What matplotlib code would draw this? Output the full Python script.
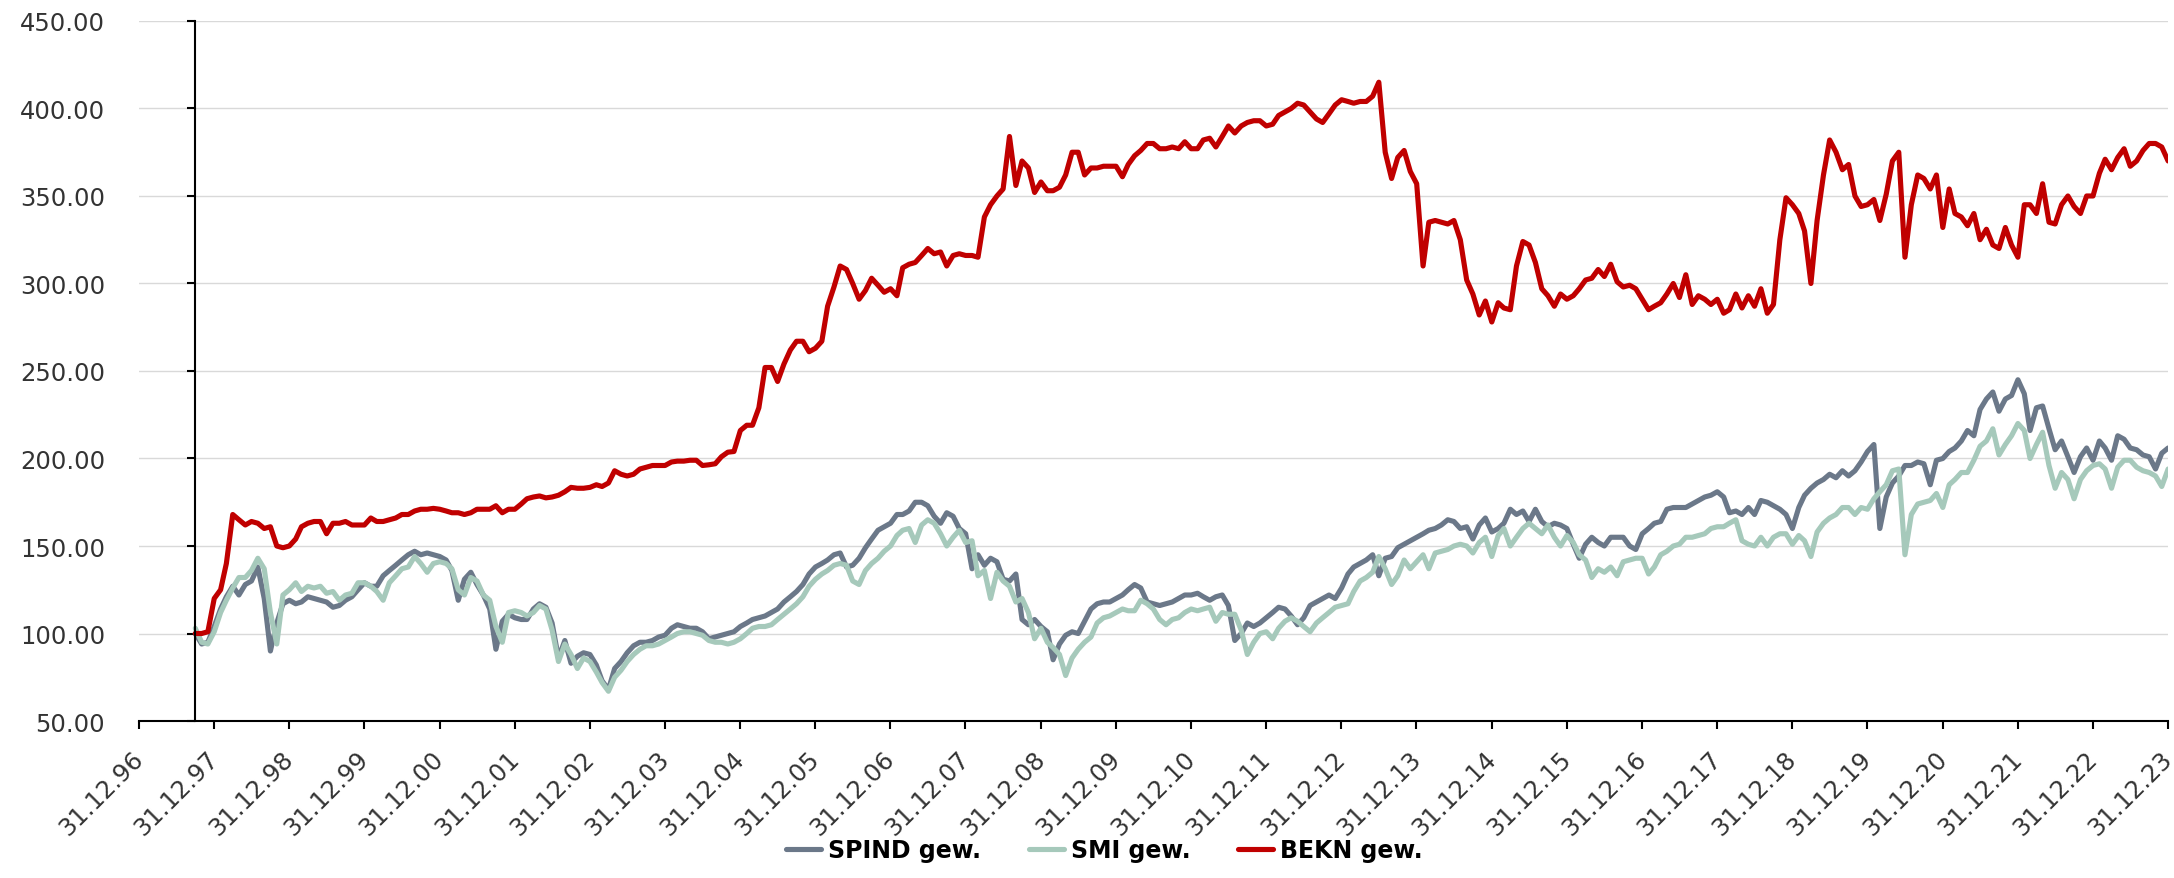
import pandas as pd
import matplotlib
matplotlib.use('Agg')
import matplotlib.pyplot as plt
import matplotlib.dates as mdates
import matplotlib.transforms as mtransforms
from matplotlib.ticker import FormatStrFormatter

# monthly index values, starting Oct 1997 = 100
spind = [
    100, 94, 95, 104, 114, 121, 127, 122, 128, 130, 138, 120, 90, 106, 117, 119, 117, 118, 121, 120,
    119, 118, 115, 116, 119, 121, 125, 129, 127, 127, 133, 136, 139, 142, 145, 147, 145, 146, 145, 144,
    142, 136, 119, 131, 135, 128, 122, 114, 91, 107, 111, 109, 108,
    108, 114, 117, 115, 106, 86, 96, 83, 87, 89, 88, 82, 73, 68, 80, 84, 89, 93, 95, 95,
    96, 98, 99, 103, 105, 104, 103, 103, 101, 97, 98, 99, 100, 101, 104, 106, 108, 109, 110, 112,
    114, 118, 121, 124, 128, 134, 138, 140, 142, 145, 146, 138, 139,
    143, 149, 154, 159, 161, 163, 168, 168, 170, 175, 175, 173, 167, 163, 169, 167, 160, 157, 137, 145,
    139, 143, 141, 131, 130, 134, 108, 105, 108, 104, 101, 85, 94, 99, 101, 100, 107, 114, 117, 118,
    118, 120, 122, 125, 128, 126, 118, 117, 116, 117, 118, 120, 122,
    122, 123, 121, 119, 121, 122, 116, 96, 100, 106, 104, 106, 109, 112, 115, 114, 110, 105, 109, 116,
    118, 120, 122, 120, 126, 134, 138, 140, 142, 145, 133, 143, 144, 149, 151, 153, 155, 157, 159, 160,
    162, 165, 164, 160, 161, 154, 162, 166, 158, 160, 163, 171,
    168, 170, 164, 171, 164, 161, 163, 162, 160, 151, 143, 151, 155, 152, 150, 155, 155, 155, 150, 148,
    157, 160, 163, 164, 171, 172, 172, 172, 174, 176, 178, 179, 181, 178, 169, 170, 168, 172, 168, 176,
    175, 173, 171, 168, 160, 172, 179, 183, 186, 188, 191, 189, 193,
    190, 193, 198, 204, 208, 160, 178, 186, 190, 196, 196, 198, 197, 185, 199, 200, 204, 206, 210, 216,
    213, 228, 234, 238, 227, 234, 236, 245, 237, 216, 229, 230, 217, 205, 210, 201, 192, 201, 206, 199,
    210, 206, 199, 213, 211, 206, 205, 202, 201, 194, 203, 206,
]

smi = [
    103, 95, 94, 101, 112, 119, 126, 132, 132, 136, 143, 137, 112, 94, 122, 125, 129, 124, 127, 126,
    127, 123, 124, 119, 122, 123, 129, 129, 127, 124, 119, 129, 133, 137, 138, 144, 140, 135, 140, 141,
    140, 137, 125, 122, 132, 130, 122, 119, 104, 95, 112, 113, 112,
    110, 112, 116, 114, 102, 84, 94, 88, 80, 86, 84, 78, 72, 67, 75, 79, 84, 88, 91, 93,
    93, 94, 96, 98, 100, 101, 101, 100, 99, 96, 95, 95, 94, 95, 97, 100, 103, 104, 104, 105,
    108, 111, 114, 117, 121, 127, 131, 134, 136, 139, 140, 139, 130,
    128, 136, 140, 143, 147, 150, 156, 159, 160, 152, 162, 165, 163, 157, 150, 155, 159, 152, 153, 133,
    136, 120, 135, 130, 127, 118, 120, 112, 97, 103, 95, 92, 88, 76, 86, 91, 95, 98, 106, 109,
    110, 112, 114, 113, 113, 119, 117, 114, 108, 105, 108, 109, 112,
    114, 113, 114, 115, 107, 112, 111, 111, 102, 88, 95, 100, 101, 97, 103, 107, 109, 107, 104, 101,
    106, 109, 112, 115, 116, 117, 124, 130, 132, 135, 144, 137, 128, 133, 142, 137, 141, 145, 137, 146,
    147, 148, 150, 151, 150, 146, 152, 155, 144, 156, 160, 150,
    155, 160, 163, 160, 157, 162, 155, 150, 156, 152, 145, 142, 132, 137, 135, 138, 133, 141, 142, 143,
    143, 134, 138, 145, 147, 150, 151, 155, 155, 156, 157, 160, 161, 161, 163, 165, 153, 151, 150, 155,
    150, 155, 157, 157, 151, 156, 153, 144, 158, 163, 166, 168, 172,
    172, 168, 172, 171, 177, 181, 185, 193, 194, 145, 168, 174, 175, 176, 180, 172, 185, 188, 192, 192,
    199, 207, 210, 217, 202, 208, 213, 220, 216, 200, 208, 215, 196, 183, 192, 188, 177, 188, 193, 196,
    197, 194, 183, 195, 199, 199, 195, 193, 192, 190, 184, 194,
]

bekn = [
    100, 100, 101, 120, 125, 140, 168, 165, 162, 164, 163, 160, 161, 150, 149, 150, 154, 161, 163, 164,
    164, 157, 163, 163, 164, 162, 162, 162, 166, 164, 164, 165, 166, 168, 168, 170, 171, 171, 171.5, 171,
    170, 169, 169, 168, 169, 171, 171, 171, 173, 169, 171, 171, 174,
    177, 178, 178.6, 177.5, 178, 179, 181, 183.5, 183, 183, 183.5, 185, 184, 186, 193, 191, 190, 191, 194, 195,
    196, 196, 196, 198, 198.5, 198.5, 199, 199, 196, 196.4, 197, 201, 203.6, 204, 216, 219, 219, 229, 252, 252,
    244, 254, 262, 267, 267, 261, 263, 267, 287, 298, 310, 308, 300,
    291, 296, 303, 299, 295, 297, 293, 309, 311, 312, 316, 320, 317, 318, 310, 316, 317, 316, 316, 315,
    338, 345, 350, 354, 384, 356, 370, 366, 352, 358, 353, 353, 355, 362, 375, 375, 362, 366, 366, 367,
    367, 367, 361, 368, 373, 376, 380, 380, 377, 377, 378, 377, 381,
    377, 377, 382, 383, 378, 384, 390, 386, 390, 392, 393, 393, 390, 391, 396, 398, 400, 403, 402, 398,
    394, 392, 397, 402, 405, 404, 403, 404, 404, 407, 415, 375, 360, 372, 376, 364, 357, 310, 335, 336,
    335, 334, 336, 325, 302, 294, 282, 290, 278, 289, 286, 285,
    310, 324, 322, 312, 297, 293, 287, 294, 291, 293, 297, 302, 303, 308, 304, 311, 301, 298, 299, 297,
    291, 285, 287, 289, 294, 300, 292, 305, 288, 293, 291, 288, 291, 283, 285, 294, 286, 293, 287, 297,
    283, 288, 325, 349, 345, 340, 330, 300, 336, 362, 382, 375, 365,
    368, 350, 344, 345, 348, 336, 351, 370, 375, 315, 345, 362, 360, 354, 362, 332, 354, 340, 338, 333,
    340, 325, 331, 322, 320, 332, 322, 315, 345, 345, 340, 357, 335, 334, 345, 350, 344, 340, 350, 350,
    363, 371, 365, 372, 377, 367, 370, 376, 380, 380, 378, 370,
]

labels = ['SPIND gew.', 'SMI gew.', 'BEKN gew.']
colors = ['#6b7889', '#a6c9bb', '#c00000']


def plot_chart():
    dates = pd.date_range('1997-10-01', periods=len(spind), freq='MS')

    fig = plt.figure(figsize=(21.74, 8.79), dpi=100)
    ax = fig.add_axes([0.0639, 0.1786, 0.9333, 0.7964])

    for series, label, color in zip([spind, smi, bekn], labels, colors):
        ax.plot(dates, series, color=color, lw=3.7, label=label,
                solid_joinstyle='round', solid_capstyle='round')

    ax.set_ylim(50, 450)
    ax.set_yticks(range(50, 451, 50))
    ax.yaxis.set_major_formatter(FormatStrFormatter('%.2f'))
    ax.set_xlim(pd.Timestamp('1996-12-31'), pd.Timestamp('2023-12-31'))
    ax.set_xticks([pd.Timestamp(f'{y}-12-31') for y in range(1996, 2024)])
    ax.xaxis.set_major_formatter(mdates.DateFormatter('%d.%m.%y'))

    # y axis sits at the start of the data, labels stay at the far left
    ax.spines['left'].set_position(('data', mdates.date2num(dates[0])))
    ax.spines['left'].set_linewidth(1.5)
    ax.spines['bottom'].set_linewidth(1.5)
    ax.spines['top'].set_visible(False)
    ax.spines['right'].set_visible(False)

    ax.grid(axis='y', color='#d9d9d9', lw=1)
    ax.set_axisbelow(True)

    ax.tick_params(axis='y', length=6, width=1.5, pad=59, labelsize=17.5, labelcolor='#333333')
    ax.tick_params(axis='x', length=6, width=1.5, pad=12, labelsize=17.5, labelcolor='#333333')
    shift = mtransforms.ScaledTranslation(-0.08, 0, fig.dpi_scale_trans)
    for lbl in ax.get_xticklabels():
        lbl.set_rotation(45)
        lbl.set_ha('right')
        lbl.set_rotation_mode('anchor')
        lbl.set_transform(lbl.get_transform() + shift)

    fig.legend(loc='center', bbox_to_anchor=(0.508, 0.032), ncol=3, frameon=False,
               handlelength=1.5, handletextpad=0.3, columnspacing=2.0,
               prop={'family': ['Liberation Sans Narrow', 'DejaVu Sans'], 'weight': 'bold', 'size': 17})

    fig.savefig('out.png', dpi=100)


if __name__ == '__main__':
    plot_chart()
